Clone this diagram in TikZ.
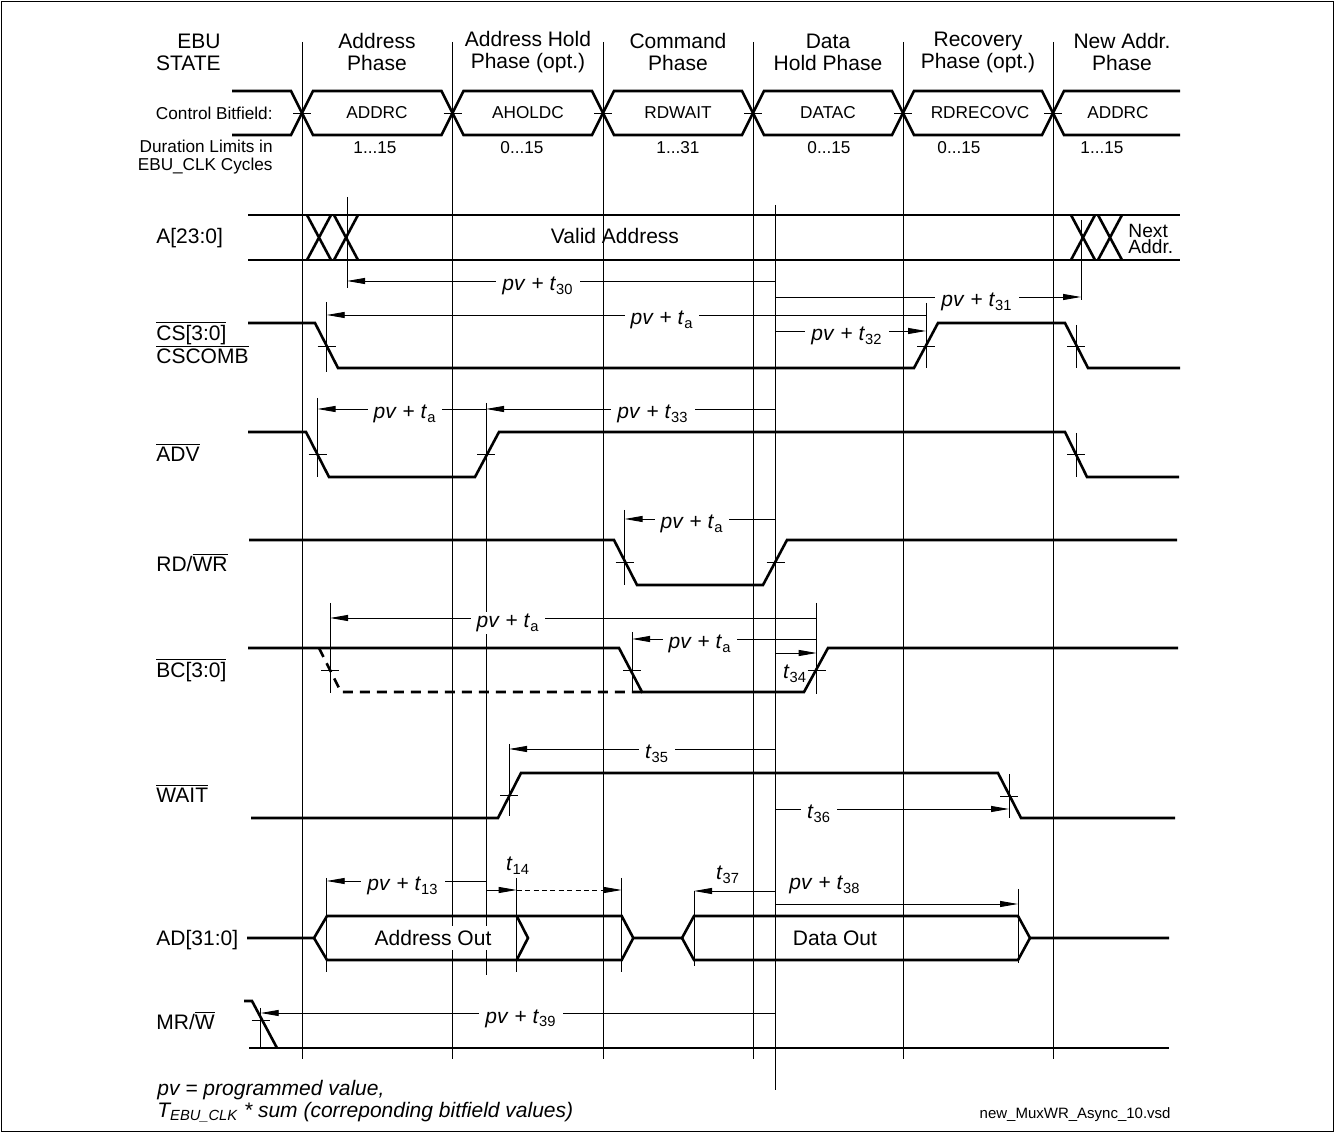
\documentclass[tikz,border=0pt]{standalone}
\usepackage{fontspec}
\setmainfont{Liberation Sans}
\usetikzlibrary{arrows.meta}

\newcommand{\pvt}[1]{\textit{pv} + \textit{t}\textsubscript{#1}}

\begin{document}
\begin{tikzpicture}[
  x=0.5pt, y=-0.5pt,
  sig/.style={line width=1.3pt},
  guide/.style={line width=0.45pt},
  tarr/.style={guide, -{Triangle[length=9pt,width=3pt]}},
  big/.style={font=\fontsize{10.5}{11}\selectfont, inner sep=0pt},
  small/.style={font=\fontsize{8.6}{9}\selectfont, inner sep=0pt},
  tval/.style={big, fill=white, inner xsep=3pt, inner ysep=1pt, anchor=base},
]
\useasboundingbox (0,0) rectangle (1335,1133);
\draw[guide] (1.5,1.5) rectangle (1333.5,1131.5);

\foreach \x in {302,452.5,603,753,903,1053}
  \draw[guide] (\x,42) -- (\x,1059);
\foreach \x/\ya/\yb in {347/197/288, 775.5/205/1090, 1081/220/300,
    326.7/302/372, 926/303/368, 1076/325/368, 317.5/398/477, 486/403/975,
    1076/433/477, 624.6/510/585, 330/603/693, 632/632/692, 816.7/603/694,
    509/744/816, 1009/774/818, 326.7/878/972, 516.7/878/972, 621.7/878/972,
    694/891/966, 1018/889/963, 260.7/1008/1048}
  \draw[guide] (\x,\ya) -- (\x,\yb);
\foreach \x/\y in {302/113, 452.5/113, 603/113, 753/113, 903/113, 1053/113,
    326.7/346, 926/346, 1076/346, 317.5/454, 486/454, 1076/454,
    624.6/562, 775.5/562, 330/670, 632/670, 816.7/670, 509/795, 1009/796,
    260.7/1020}
  \draw[guide] (\x-9,\y) -- (\x+9,\y);

\node[big, align=right, anchor=east] (state) at (221,52) {EBU\\STATE};
\node[big, align=center] (ph1) at (377,52) {Address\\Phase};
\node[big, align=center] (ph2) at (528,52) {Address Hold\\Phase (opt.)};
\node[big, align=center] (ph3) at (678,52) {Command\\Phase};
\node[big, align=center] (ph4) at (828,52) {Data\\Hold Phase};
\node[big, align=center] (ph5) at (978,52) {Recovery\\Phase (opt.)};
\node[big, align=center] (ph6) at (1122,52) {New Addr.\\Phase};

\draw[sig] (232,91) -- (291,91) -- (302,113) -- (291,135) -- (232,135);
\foreach \a/\b in {302/452.5, 452.5/603, 603/753, 753/903, 903/1053}
  \draw[sig] (\a,113) -- (\a+11,91) -- (\b-11,91) -- (\b,113)
    -- (\b-11,135) -- (\a+11,135) -- cycle;
\draw[sig] (1180,91) -- (1064,91) -- (1053,113) -- (1064,135) -- (1180,135);
\node[small, anchor=east] (cbf) at (273,113) {Control Bitfield:};
\node[small] (bf1) at (377,113) {ADDRC};
\node[small] (bf2) at (528,113) {AHOLDC};
\node[small] (bf3) at (678,113) {RDWAIT};
\node[small] (bf4) at (828,113) {DATAC};
\node[small] (bf5) at (980,113) {RDRECOVC};
\node[small] (bf6) at (1118,113) {ADDRC};
\node[small, align=right, anchor=east] (dur) at (273,157) {Duration Limits in\\EBU\_CLK Cycles};
\node[small] (lim1) at (375,148) {1...15};
\node[small] (lim2) at (522,148) {0...15};
\node[small] (lim3) at (678,148) {1...31};
\node[small] (lim4) at (829,148) {0...15};
\node[small] (lim5) at (959,148) {0...15};
\node[small] (lim6) at (1102,148) {1...15};

\draw[sig] (248,215) -- (1180,215) (248,260) -- (1180,260);
\foreach \x in {319,346,1083,1110}
  \draw[sig] (\x-12,215) -- (\x+12,260) (\x+12,215) -- (\x-12,260);
\node[big] (valid) at (615,236) {Valid Address};
\node[inner sep=0pt, anchor=base west, font=\fontsize{9.6}{10}\selectfont] (next) at (1128,238) {Next};
\node[inner sep=0pt, anchor=base west, font=\fontsize{9.6}{10}\selectfont] (naddr) at (1128,254) {Addr.};

\draw[sig] (248,323) -- (315,323) -- (338,368) -- (914,368) -- (938,323)
  -- (1065,323) -- (1088,368) -- (1180,368);
\draw[sig] (248,432) -- (306,432) -- (329,477) -- (475,477) -- (499,432)
  -- (1065,432) -- (1087,477) -- (1179,477);
\draw[sig] (249,540) -- (614,540) -- (637,585) -- (763,585) -- (787,540) -- (1177,540);
\draw[sig] (248,648) -- (619,648) -- (642,692) -- (804,692) -- (828,648) -- (1178,648);
\draw[sig, dash pattern=on 5pt off 3.5pt] (319,648) -- (341,692) -- (642,692);
\draw[sig] (251,818) -- (498,818) -- (521,773) -- (998,773) -- (1021,818) -- (1175,818);
\draw[sig] (247,938) -- (314,938) -- (327,916) -- (621.7,916) -- (633.3,938) -- (682,938)
  -- (694,916) -- (1018,916) -- (1030,938) -- (1169,938);
\draw[sig] (314,938) -- (327,960) -- (621.7,960) -- (633.3,938);
\draw[sig] (682,938) -- (694,960) -- (1018,960) -- (1030,938);
\draw[sig] (516.7,916) -- (528,938) -- (516.7,960);
\draw[sig] (244,1001) -- (252,1001) -- (277,1048);
\draw[sig] (249,1048) -- (1169,1048);
\node[big, fill=white, inner sep=2pt] (aout) at (433,938) {Address Out};
\node[big] (dout) at (835,938) {Data Out};

\node[big, anchor=base west] (sa) at (156,243.5) {A[23:0]};
\node[big, anchor=base west] (scs) at (156,340.5) {$\overline{\mbox{CS[3:0]}}$};
\node[big, anchor=base west] (scomb) at (156,363.5) {$\overline{\mbox{CSCOMB}}$};
\node[big, anchor=base west] (sadv) at (156,461.5) {$\overline{\mbox{ADV}}$};
\node[big, anchor=base west] (srd) at (156,571.5) {RD/$\overline{\mbox{WR}}$};
\node[big, anchor=base west] (sbc) at (156,677.5) {$\overline{\mbox{BC[3:0]}}$};
\node[big, anchor=base west] (swait) at (156,802.5) {$\overline{\mbox{WAIT}}$};
\node[big, anchor=base west] (sad) at (156,945.5) {AD[31:0]};
\node[big, anchor=base west] (smr) at (156,1029.5) {MR/$\overline{\mbox{W}}$};

\draw[tarr] (775.5,281) -- (347,281);
\draw[tarr] (775.5,297) -- (1081,297);
\draw[tarr] (926,315) -- (326.7,315);
\draw[tarr] (775.5,331) -- (926,331);
\draw[tarr] (486,409) -- (317.5,409);
\draw[tarr] (775.5,409) -- (486,409);
\draw[tarr] (775.5,519) -- (624.6,519);
\draw[tarr] (816.7,618) -- (330,618);
\draw[tarr] (816.7,639) -- (632,639);
\draw[tarr] (775.5,653) -- (816.7,653);
\draw[tarr] (775.5,749) -- (509,749);
\draw[tarr] (775.5,809) -- (1009,809);
\draw[tarr] (486,881) -- (326.7,881);
\draw[tarr] (486,890) -- (516.7,890);
\draw[tarr, dash pattern=on 2.5pt off 1.7pt] (516.7,890) -- (621.7,890);
\draw[tarr] (775.5,891) -- (694,891);
\draw[tarr] (775.5,904) -- (1018,904);
\draw[tarr] (775.5,1013) -- (260.7,1013);

\node[tval] (t30) at (538,291) {\pvt{30}};
\node[tval] (t31) at (977,307) {\pvt{31}};
\node[tval] (tacs) at (662,325) {\pvt{a}};
\node[tval] (t32) at (847,341) {\pvt{32}};
\node[tval] (taadv) at (405,419) {\pvt{a}};
\node[tval] (t33) at (653,419) {\pvt{33}};
\node[tval] (tard) at (692,529) {\pvt{a}};
\node[tval] (tabc) at (508,628) {\pvt{a}};
\node[tval] (tabcs) at (700,649) {\pvt{a}};
\node[tval] (t35) at (657,759) {\textit{t}\textsubscript{35}};
\node[tval] (t36) at (819,819) {\textit{t}\textsubscript{36}};
\node[tval] (t13) at (403,891) {\pvt{13}};
\node[tval] (t39) at (521,1023) {\pvt{39}};
\node[big, anchor=base] (t34) at (795,679) {\textit{t}\textsubscript{34}};
\node[big, anchor=base] (t14) at (518,871) {\textit{t}\textsubscript{14}};
\node[big, anchor=base] (t37) at (728,880) {\textit{t}\textsubscript{37}};
\node[big, anchor=base] (t38) at (825,890) {\pvt{38}};

\node[big, anchor=base west] (note1) at (157,1095) {\textit{pv = programmed value,}};
\node[big, anchor=base west] (note2) at (157,1117) {\textit{T\textsubscript{EBU\_CLK} * sum (correponding bitfield values)}};
\node[font=\fontsize{7.5}{9}\selectfont, inner sep=0pt, anchor=base east] (file) at (1171,1118) {new\_MuxWR\_Async\_10.vsd};
\end{tikzpicture}
\end{document}
